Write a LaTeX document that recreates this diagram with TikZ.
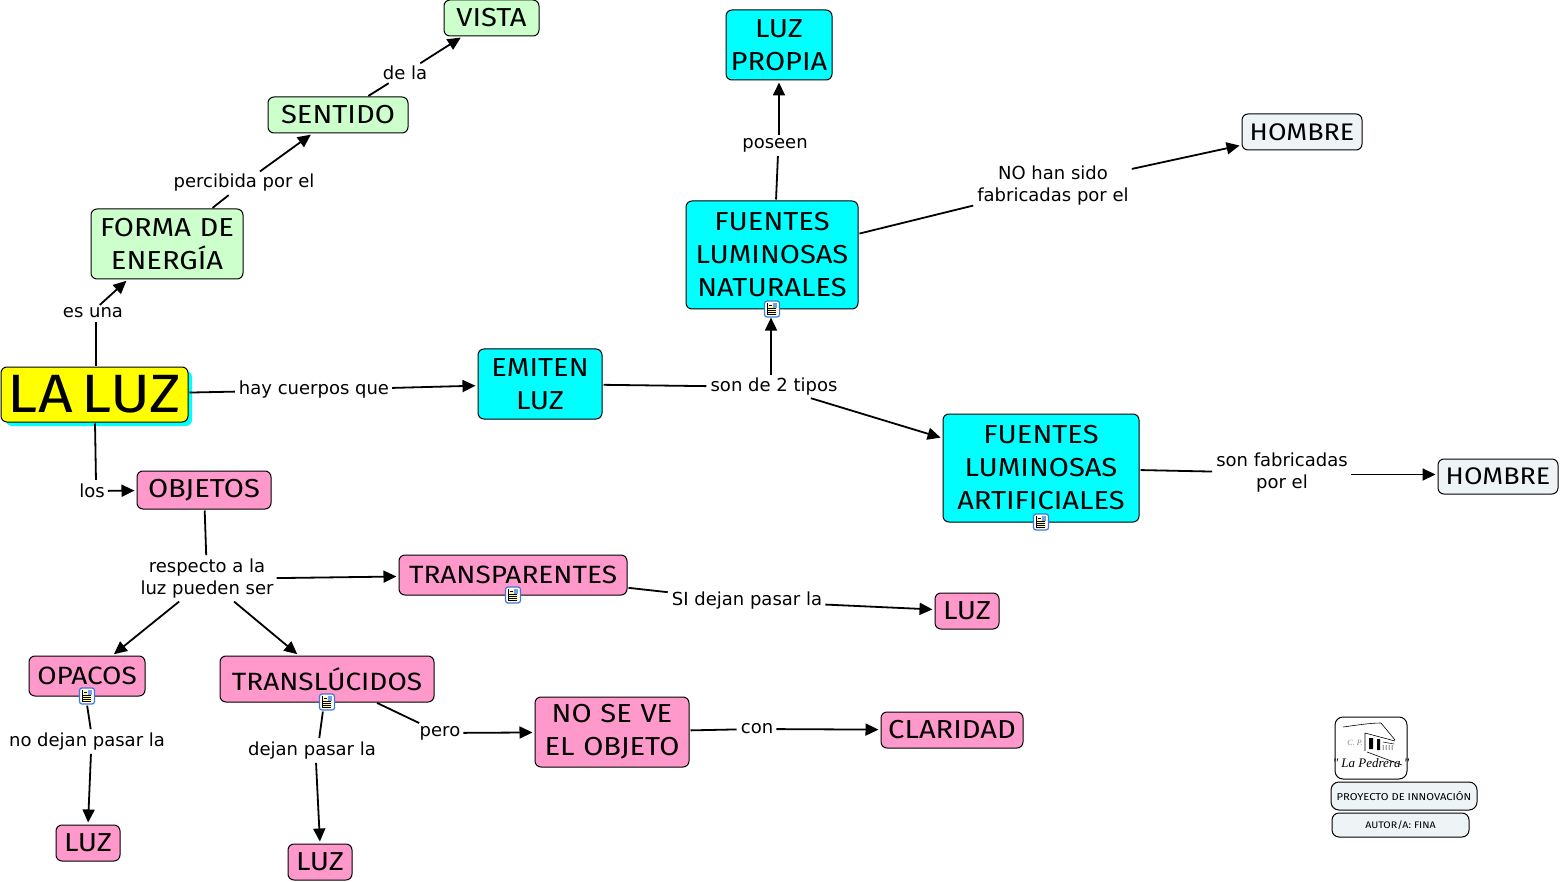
\documentclass[tikz,border=0pt]{standalone}
\usepackage{fontspec}
\setmainfont{DejaVu Sans}
\newfontfamily\boxfont[FakeStretch=1.12]{Fira Sans}
\newfontfamily\logofont{Liberation Serif}
\usetikzlibrary{arrows.meta,calc}
\definecolor{cgreen}{HTML}{CCFFCC}
\definecolor{ccyan}{HTML}{00FFFF}
\definecolor{cpink}{HTML}{FF99CC}
\definecolor{cpale}{HTML}{EEF4F6}
\definecolor{cyell}{HTML}{FFFF00}
\definecolor{ciconyell}{HTML}{FFF8A8}
\definecolor{iconblue}{HTML}{3C78D8}
\tikzset{
  x=1pt,y=-1pt,
  box/.style={draw=black,line width=1pt,rounded corners=6pt,inner sep=0pt,align=center,font=\boxfont\fontsize{26}{33}\selectfont},
  lab/.style={inner sep=2pt,align=center,font=\fontsize{18}{22}\selectfont},
  con/.style={line width=1.8pt,black,shorten <=1pt,shorten >=2pt},
  arr/.style={con,-{Triangle[length=13pt,width=12pt]}},
  icon/.style={draw=iconblue,fill=white,line width=1.2pt,rounded corners=2.5pt,minimum width=15pt,minimum height=16pt,inner sep=0pt},
}
\newcommand{\bx}[7]{% name, x1,y1,x2,y2, fill, text
  \node[box,fill=#6,minimum width={#4-#2},minimum height={#5-#3},text width={#4-#2}] (#1) at ({(#2+#4)/2},{(#3+#5)/2}) {#7};}
\newcommand{\icn}[3]{%
  \node[icon] (#1) at (#2,#3) {};
  \fill[ciconyell] (#2-5,#3-5) rectangle (#2+5,#3+6);
  \fill[iconblue!70] (#2+1,#3-6) rectangle (#2+5,#3-1);
  \foreach \k in {-1,1,3,5}{\draw[black,line width=.7pt] (#2-4,#3+\k) -- (#2+4,#3+\k);}
  \draw[black,line width=.7pt] (#2-5,#3-6) -- (#2-5,#3+6) (#2-3,#3-4) -- (#2,#3-4);
}
\begin{document}
\begin{tikzpicture}
\useasboundingbox (0,0) rectangle (1560,882);
% boxes
\bx{vista}{444}{0}{539}{36}{cgreen}{VISTA}
\bx{sentido}{268}{97}{408}{133}{cgreen}{SENTIDO}
\bx{forma}{91}{209}{243}{279}{cgreen}{FORMA DE\\ENERGÍA}
\fill[ccyan,rounded corners=6pt] (6,371) rectangle (192,426);
\bx{laluz}{1}{367}{188}{422}{cyell}{\fontsize{54}{60}\selectfont LA LUZ}
\bx{emiten}{478}{349}{602}{419}{ccyan}{EMITEN\\LUZ}
\bx{propia}{726}{10}{832}{80}{ccyan}{LUZ\\PROPIA}
\bx{natur}{686}{201}{858}{309}{ccyan}{FUENTES\\LUMINOSAS\\NATURALES}
\bx{hombrea}{1242}{114}{1362}{150}{cpale}{\fontsize{24}{30}\selectfont HOMBRE}
\bx{artif}{943}{414}{1139}{522}{ccyan}{FUENTES\\LUMINOSAS\\ARTIFICIALES}
\bx{hombreb}{1438}{459}{1558}{494}{cpale}{\fontsize{24}{30}\selectfont HOMBRE}
\bx{objetos}{137}{471}{271}{509}{cpink}{OBJETOS}
\bx{transp}{399}{555}{627}{595}{cpink}{\fontsize{25}{30}\selectfont TRANSPARENTES}
\bx{luza}{935}{593}{999}{629}{cpink}{LUZ}
\bx{opacos}{29}{656}{145}{696}{cpink}{\fontsize{25}{30}\selectfont OPACOS}
\bx{transl}{220}{656}{434}{702}{cpink}{\fontsize{25}{30}\selectfont TRANSLÚCIDOS}
\bx{nose}{535}{697}{689}{767}{cpink}{NO SE VE\\EL OBJETO}
\bx{clar}{881}{712}{1023}{748}{cpink}{CLARIDAD}
\bx{luzb}{56}{825}{120}{861}{cpink}{LUZ}
\bx{luzc}{288}{844}{352}{880}{cpink}{LUZ}
% labels
\node[lab] (l1) at (93,313) {es una};
\node[lab] (l2) at (244,183) {percibida por el};
\node[lab] (l3) at (405,73) {de la};
\node[lab] (l4) at (314,390) {hay cuerpos que};
\node[lab] (l5) at (774,387) {son de 2 tipos};
\node[lab] (l6) at (775,145) {poseen};
\node[lab] (l7) at (1053,186) {NO han sido\\fabricadas por el};
\node[lab] (l8) at (1282,473) {son fabricadas\\por el};
\node[lab] (l9) at (92,491) {los};
\node[lab] (l10) at (207,579) {respecto a la\\luz pueden ser};
\node[lab] (l11) at (747,601) {SI dejan pasar la};
\node[lab] (l12) at (87,742) {no dejan pasar la};
\node[lab] (l13) at (312,751) {dejan pasar la};
\node[lab] (l14) at (440,733) {pero};
\node[lab] (l15) at (757,729) {con};
% note icons
\icn{i1}{772}{309}
\icn{i2}{1041}{522}
\icn{i3}{513}{595}
\icn{i4}{87}{696}
\icn{i5}{327}{702}
% connectors
\draw[con] ([xshift=1.5pt]laluz.north) -- ([xshift=3pt]l1.south); \draw[arr] ([xshift=6pt]l1.north) -- (forma);
\draw[con] (forma) -- (l2); \draw[arr] (l2) -- (sentido);
\draw[con] (sentido) -- (l3); \draw[arr] (l3) -- (vista);
\draw[con] (laluz) -- (l4); \draw[arr] (l4) -- (emiten);
\draw[con] (emiten) -- (l5); \draw[arr,shorten >=0pt] ([xshift=-3pt]l5.north) -- ([xshift=-1pt]i1.south); \draw[arr] (l5) -- (artif);
\draw[con] ([xshift=4pt]natur.north) -- ([xshift=3pt]l6.south); \draw[arr] ([xshift=4pt]l6.north) -- (propia.south);
\draw[con] (natur) -- (l7); \draw[arr] (l7) -- (hombrea);
\draw[con] (artif) -- (l8); \draw[arr] ([yshift=-1.5pt]l8.east) -- ([yshift=2pt]hombreb.west);
\draw[con] ([xshift=0.5pt]laluz.south) -- ([xshift=4pt]l9.north); \draw[arr] (l9) -- (objetos);
\draw[con] (objetos) -- (l10); \draw[arr] (l10) -- (transp); \draw[arr] (l10) -- (opacos); \draw[arr] (l10) -- (transl);
\draw[con] (transp) -- (l11); \draw[arr] (l11) -- (luza);
\draw[con] (i4.south) -- ([xshift=4pt]l12.north); \draw[arr] ([xshift=4pt]l12.south) -- (luzb.north);
\draw[con] ([xshift=-4pt]i5.south) -- ([xshift=7pt]l13.north); \draw[arr] ([xshift=4pt]l13.south) -- (luzc.north);
\draw[con] (transl) -- (l14); \draw[arr] (l14) -- (nose);
\draw[con] (nose) -- (l15); \draw[arr] (l15) -- (clar);
% logo group
\node[box,fill=white,minimum width=72pt,minimum height=62pt,rounded corners=8pt] (logo) at (1371,748) {};
\draw[black,line width=.6pt] (1343,727) .. controls (1358,725) and (1370,723) .. (1381,723) -- (1395,740);
\draw[black,line width=.6pt] (1365,733) -- (1395,741) (1365,733) -- (1365,751) (1367,752) -- (1402,765);
\fill[black] (1369,738) rectangle (1373,749) (1377,739) rectangle (1380,750);
\draw[black,line width=.5pt] (1383,742) -- (1394,744) (1383,745) -- (1383,750) (1386,745) -- (1386,750) (1389,745) -- (1389,750) (1392,745) -- (1392,750);
\node[inner sep=0pt,font=\logofont\itshape\fontsize{8}{8}\selectfont,text=gray] (logoa) at (1355,743) {C. P.};
\node[inner sep=0pt,font=\logofont\itshape\fontsize{13}{13}\selectfont] (logob) at (1371,763) {" La Pedrera "};
\node[box,fill=cpale,minimum width=146pt,minimum height=28pt,rounded corners=8pt,font=\boxfont\fontsize{10}{12}\selectfont] (proy) at (1404,796) {PROYECTO DE INNOVACIÓN};
\node[box,fill=cpale,minimum width=137pt,minimum height=24pt,rounded corners=7pt,font=\boxfont\fontsize{9.5}{12}\selectfont] (autor) at (1400.5,825) {AUTOR/A: FINA};
\end{tikzpicture}
\end{document}
